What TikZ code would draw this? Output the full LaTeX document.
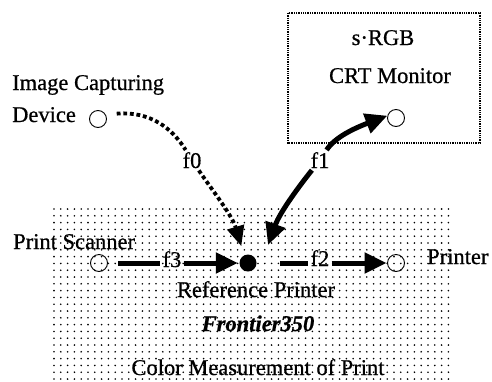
\documentclass[tikz,border=0pt]{standalone}
\usepackage{fontspec}
\setmainfont{Liberation Serif}[FakeBold=0.6]
\usetikzlibrary{arrows.meta}
\begin{document}
\begin{tikzpicture}[x=1pt,y=-1pt,
  txt/.style={inner sep=0pt, font=\fontsize{22.5}{27}\selectfont},
  port/.style={circle, draw, line width=0.9pt, minimum size=17pt, inner sep=0pt},
  hub/.style={circle, fill=black, minimum size=17pt, inner sep=0pt},
  lbl/.style={inner sep=2pt, font=\fontsize{22.5}{27}\selectfont},
  flow/.style={line width=5pt, -{Triangle[length=22pt,width=20pt]}},
  thickline/.style={line width=5pt},
  dotflow/.style={line width=3.8pt, dash pattern=on 3.8pt off 2.8pt},
  boxframe/.style={line width=1.3pt, densely dotted}]

\useasboundingbox (0,0) rectangle (492,381);
\fill[white] (0,0) rectangle (492,381);
% dotted background of the print area
\foreach \i in {0,...,58}{\foreach \j in {0,...,25}{\fill[black] (54+6.8*\i,209+6.8*\j) circle (0.9pt);}}

% monitor frame
\draw[boxframe] (288,13) rectangle (480,143);

% ports
\node[port] (dev) at (98,119) {};
\node[port] (ps) at (99,263) {};
\node[hub] (ref) at (248,263) {};
\node[port] (pr) at (396,263) {};
\node[port] (crt) at (396,118) {};

% texts
\node[txt, anchor=base west] (tcap) at (12,90) {Image Capturing};
\node[txt, anchor=base west] (tdev) at (12,122) {Device};
\node[txt, anchor=base] (tsrgb) at (383,45) {s·RGB};
\node[txt, anchor=base] (tcrt) at (390,83) {CRT Monitor};
\node[txt, anchor=base west] (tps) at (13,249) {Print Scanner};
\node[txt, anchor=base west] (tpr) at (427,264) {Printer};
\node[txt, anchor=base] (tref) at (256,297) {Reference Printer};
\node[txt, anchor=base, font=\fontsize{22.5}{27}\selectfont\bfseries\itshape] (tfr) at (258,331) {Frontier350};
\node[txt, anchor=base] (tcm) at (258,375) {Color Measurement of Print};

% connector labels
\node[lbl, anchor=base] (f0l) at (192,168) {f0};
\node[lbl, anchor=base] (f1l) at (320,168) {f1};
\node[lbl, anchor=base] (f3l) at (172,267) {f3};
\node[lbl, anchor=base] (f2l) at (320,266) {f2};

% f0 (dotted)
\draw[dotflow, shorten <=11pt] (dev.30) .. controls (150,111) and (172,128) .. (f0l);
\draw[dotflow, -{Triangle[length=20pt,width=17pt]}, shorten >=9.5pt] (f0l) .. controls (212,190) and (232,215) .. (ref.117);

% f1 (two-way)
\coordinate (f1tip) at (268,245);
\draw[flow] (f1l) .. controls (300,185) and (280,212) .. (f1tip);
\draw[flow] (f1l) .. controls (335,137) and (355,128) .. (crt.165);

% f3
\draw[thickline, shorten <=10.5pt] (ps) -- (ps -| f3l.west);
\draw[flow, shorten >=1.5pt] (f3l.east |- ref) -- (ref);

% f2
\draw[thickline, shorten <=23.5pt] (ref) -- (ref -| f2l.west);
\draw[flow, shorten >=0.5pt] (f2l.east |- pr) -- (pr);
\end{tikzpicture}
\end{document}
